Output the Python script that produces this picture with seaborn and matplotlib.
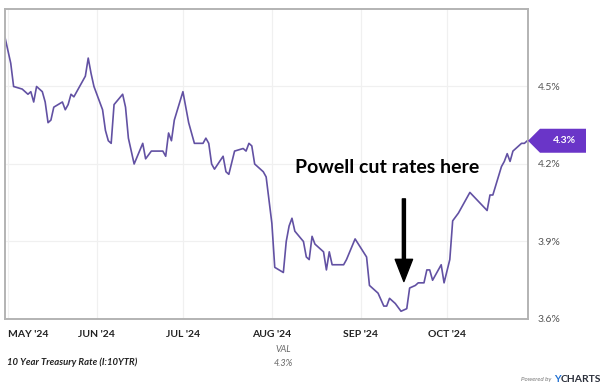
import matplotlib
matplotlib.use("Agg")
import matplotlib.pyplot as plt
import seaborn as sns
import pandas as pd
from matplotlib.patches import Polygon
from matplotlib.transforms import Affine2D

# 10 year treasury rate (percent)
dates = [
    "2024-04-30", "2024-05-02", "2024-05-03", "2024-05-06", "2024-05-07", "2024-05-08",
    "2024-05-09", "2024-05-10", "2024-05-11", "2024-05-12", "2024-05-13", "2024-05-14",
    "2024-05-15", "2024-05-16", "2024-05-17", "2024-05-20", "2024-05-21", "2024-05-22",
    "2024-05-23", "2024-05-24", "2024-05-25", "2024-05-28", "2024-05-29", "2024-05-30",
    "2024-05-31", "2024-06-03", "2024-06-04", "2024-06-05", "2024-06-06", "2024-06-07",
    "2024-06-10", "2024-06-11", "2024-06-12", "2024-06-14", "2024-06-17", "2024-06-18",
    "2024-06-20", "2024-06-24", "2024-06-25", "2024-06-26", "2024-06-27", "2024-06-28",
    "2024-07-01", "2024-07-03", "2024-07-05", "2024-07-08", "2024-07-09", "2024-07-10",
    "2024-07-11", "2024-07-12", "2024-07-15", "2024-07-16", "2024-07-17", "2024-07-19",
    "2024-07-22", "2024-07-23", "2024-07-24", "2024-07-25", "2024-07-26", "2024-07-29",
    "2024-07-30", "2024-07-31", "2024-08-01", "2024-08-02", "2024-08-05", "2024-08-06",
    "2024-08-07", "2024-08-08", "2024-08-09", "2024-08-12", "2024-08-13", "2024-08-14",
    "2024-08-15", "2024-08-16", "2024-08-19", "2024-08-20", "2024-08-21", "2024-08-22",
    "2024-08-26", "2024-08-27", "2024-08-30", "2024-09-03", "2024-09-04", "2024-09-07",
    "2024-09-09", "2024-09-10", "2024-09-11", "2024-09-13", "2024-09-15", "2024-09-17",
    "2024-09-18", "2024-09-20", "2024-09-21", "2024-09-23", "2024-09-24", "2024-09-25",
    "2024-09-26", "2024-09-29", "2024-09-30", "2024-10-02", "2024-10-03", "2024-10-05",
    "2024-10-07", "2024-10-09", "2024-10-15", "2024-10-16", "2024-10-17", "2024-10-20",
    "2024-10-21", "2024-10-22", "2024-10-23", "2024-10-24", "2024-10-27", "2024-10-28",
    "2024-10-29",
]
rates = [
    4.69, 4.59, 4.50, 4.49, 4.48, 4.47,
    4.48, 4.44, 4.50, 4.49, 4.48, 4.44,
    4.36, 4.37, 4.42, 4.44, 4.41, 4.43,
    4.47, 4.46, 4.48, 4.54, 4.61, 4.55,
    4.50, 4.41, 4.33, 4.29, 4.28, 4.43,
    4.47, 4.42, 4.30, 4.20, 4.28, 4.22,
    4.25, 4.25, 4.23, 4.32, 4.29, 4.37,
    4.48, 4.36, 4.28, 4.28, 4.30, 4.28,
    4.20, 4.18, 4.23, 4.17, 4.16, 4.25,
    4.26, 4.25, 4.28, 4.27, 4.20, 4.17,
    4.15, 4.06, 3.97, 3.80, 3.78, 3.90,
    3.96, 3.99, 3.94, 3.90, 3.84, 3.83,
    3.92, 3.89, 3.86, 3.79, 3.86, 3.81,
    3.81, 3.83, 3.91, 3.84, 3.73, 3.70,
    3.65, 3.65, 3.68, 3.66, 3.63, 3.64,
    3.72, 3.73, 3.74, 3.74, 3.79, 3.79,
    3.75, 3.81, 3.74, 3.83, 3.98, 4.01,
    4.05, 4.09, 4.02, 4.08, 4.08, 4.19,
    4.21, 4.24, 4.21, 4.25, 4.28, 4.28,
    4.29,
]

month_ticks = ["2024-05-01", "2024-06-01", "2024-07-01", "2024-08-01", "2024-09-01", "2024-10-01"]
month_labels = ["MAY '24", "JUN '24", "JUL '24", "AUG '24", "SEP '24", "OCT '24"]
y_ticks = [3.6, 3.9, 4.2, 4.5]
y_labels = ["3.6%", "3.9%", "4.2%", "4.5%"]

df = pd.DataFrame({"date": pd.to_datetime(dates), "rate": rates})

sns.set_style("white")
plt.rcParams["font.family"] = ["Lato", "DejaVu Sans"]

fig = plt.figure(figsize=(6, 3.92), dpi=100)
ax = fig.add_axes([5 / 600, 1 - 319 / 392, 523 / 600, 310 / 392])

line_color = "#6251a3"
sns.lineplot(data=df, x="date", y="rate", ax=ax, color=line_color, linewidth=1.2)

ax.set_xlim(pd.Timestamp("2024-04-30"), pd.Timestamp("2024-10-29 06:00"))
ax.set_ylim(3.6, 4.80)

ax.set_xticks(pd.to_datetime(month_ticks))
ax.set_xticklabels(month_labels, fontsize=7.5, fontweight="bold", color="#222222")
ax.get_xticklabels()[0].set_horizontalalignment("left")
ax.set_yticks(y_ticks)
ax.set_yticklabels(y_labels, fontsize=7.5, color="#555555")
ax.yaxis.tick_right()
ax.tick_params(axis="x", length=0, pad=8)
ax.tick_params(axis="y", length=0, pad=7)
ax.set_xlabel("")
ax.set_ylabel("")

ax.grid(True, color="#f0f0f0", linewidth=0.9)
for s in ax.spines.values():
    s.set_visible(True)
    s.set_color("#b3b3b3")
    s.set_linewidth(1.4)

# current value tag on the right axis
last_val = rates[-1]
fig.canvas.draw()
tip_x, tip_y = ax.transData.transform((ax.get_xlim()[1], last_val))
tag = Polygon([(0, 0), (12, 12), (58, 12), (58, -12), (12, -12)], closed=True,
              facecolor="#6a35c8", edgecolor="none",
              transform=Affine2D().translate(tip_x, tip_y), clip_on=False)
fig.add_artist(tag)
fig.text((tip_x + 36) / 600, tip_y / 392, f"{last_val:.1f}%", color="white",
         fontsize=7.5, fontweight="bold", ha="center", va="center")

# annotation
ax.text(pd.Timestamp("2024-09-10"), 4.185, "Powell cut rates here", fontsize=14,
        fontweight="bold", color="black", ha="center", va="center")
ax.annotate("", xy=(pd.Timestamp("2024-09-16"), 3.745), xytext=(pd.Timestamp("2024-09-16"), 4.065),
            arrowprops=dict(facecolor="black", edgecolor="black", width=2.2,
                            headwidth=12.5, headlength=16, shrink=0))

# footer
fig.text(7 / 600, 1 - 362 / 392, "10 Year Treasury Rate (I:10YTR)", fontsize=6.8,
         fontstyle="italic", fontweight="bold", color="#222222", va="center")
fig.text(283 / 600, 1 - 350 / 392, "VAL", fontsize=6.5, fontstyle="italic",
         color="#666666", ha="center", va="center")
fig.text(283 / 600, 1 - 363 / 392, "4.3%", fontsize=6.5, fontstyle="italic",
         color="#666666", ha="center", va="center")
fig.text(551 / 600, 1 - 380 / 392, "Powered by", fontsize=4.5, fontstyle="italic",
         color="#777777", ha="right", va="center")
fig.text(554 / 600, 1 - 380 / 392, "Y", fontsize=7.5, fontweight="bold",
         color="#1f6fd1", ha="left", va="center")
fig.text(561 / 600, 1 - 380 / 392, "CHARTS", fontsize=7.5, fontweight="bold",
         color="#2b2f3a", ha="left", va="center")

fig.savefig("out.png", dpi=100)
